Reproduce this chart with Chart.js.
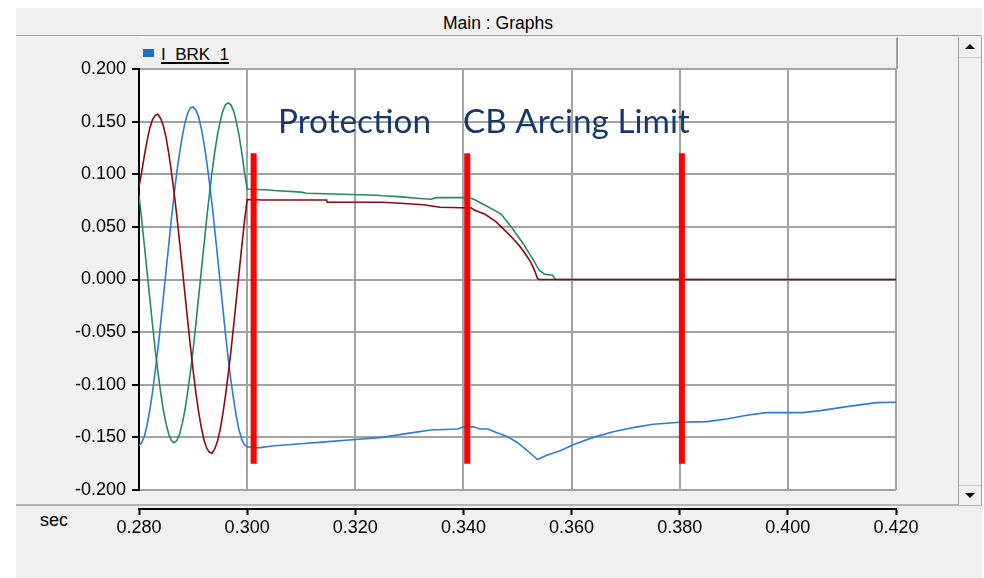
<!DOCTYPE html>
<html>
<head>
<meta charset="utf-8">
<script src="https://cdn.jsdelivr.net/npm/chart.js@4"></script>
<style>
html,body{margin:0;padding:0;background:#fff;}
#wrap{position:relative;width:984px;height:578px;overflow:hidden;font-family:"Liberation Sans",Arial,sans-serif;color:#000;}
.abs{position:absolute;box-sizing:border-box;}
#titlebar{left:16px;top:8px;width:966px;height:28px;background:#f0f0f0;border-bottom:1px solid #a0a0a0;}
#titletext{left:16px;top:14px;width:964px;text-align:center;font-size:17.5px;line-height:18px;white-space:nowrap;}
#panel{left:16px;top:36px;width:966px;height:470px;background:#f0f0f0;border-bottom:2px solid #b4b4b4;}
#legendbar{left:138px;top:37px;width:760px;height:32px;background:#f0f0f0;border-top:1px solid #fff;border-right:2px solid #a0a0a0;}
#legsq{left:143px;top:49px;width:11px;height:8px;background:#1f6fd0;}
#legtext{left:161px;top:46px;font-size:17px;line-height:17px;white-space:nowrap;text-decoration:underline;text-decoration-thickness:2px;text-underline-offset:2px;}
#plotbg{left:139px;top:69px;width:758px;height:422px;background:#fff;}
#scroll{left:958px;top:37px;width:24px;height:468px;border-left:1px solid #a0a0a0;border-right:1px solid #a0a0a0;background:#f0f0f0;}
#scrollup{left:959px;top:37px;width:22px;height:21px;border-bottom:1px solid #c8c8c8;}
#scrolldn{left:959px;top:485px;width:22px;height:20px;border-top:1px solid #c8c8c8;}
.triup{width:0;height:0;border-left:5px solid transparent;border-right:5px solid transparent;border-bottom:5px solid #000;}
.tridn{width:0;height:0;border-left:5px solid transparent;border-right:5px solid transparent;border-top:5px solid #000;}
#bottom{left:16px;top:506px;width:966px;height:72px;background:#f0f0f0;}
#sec{left:40px;top:511px;font-size:18px;line-height:18px;}
canvas{position:absolute;left:0;top:0;}
</style>
</head>
<body>
<div id="wrap">
  <div class="abs" id="titlebar"></div>
  <div class="abs" id="titletext">Main : Graphs</div>
  <div class="abs" id="panel"></div>
  <div class="abs" id="legendbar"></div>
  <div class="abs" id="legsq"></div>
  <div class="abs" id="legtext">I_BRK_1</div>
  <div class="abs" id="plotbg"></div>
  <div class="abs" id="scroll"></div>
  <div class="abs" id="scrollup"></div>
  <div class="abs triup" style="left:965px;top:44px;"></div>
  <div class="abs" id="scrolldn"></div>
  <div class="abs tridn" style="left:965px;top:493px;"></div>
  <div class="abs" id="bottom"></div>
  <div class="abs" id="sec">sec</div>
  <canvas id="c" width="984" height="578"></canvas>
</div>
<script>
// ---- axis ticks ----
const xTickValues = [0.28, 0.30, 0.32, 0.34, 0.36, 0.38, 0.40, 0.42];
const xTickLabels = ['0.280', '0.300', '0.320', '0.340', '0.360', '0.380', '0.400', '0.420'];
const yTickValues = [-0.20, -0.15, -0.10, -0.05, 0.00, 0.05, 0.10, 0.15, 0.20];
const yTickLabels = ['-0.200', '-0.150', '-0.100', '-0.050', '0.000', '0.050', '0.100', '0.150', '0.200'];

// ---- time samples (sec) for the pre-fault sine part ----
const sineT = [0.2800, 0.2805, 0.2810, 0.2815, 0.2820, 0.2825, 0.2830, 0.2835, 0.2840, 0.2845,
               0.2850, 0.2855, 0.2860, 0.2865, 0.2870, 0.2875, 0.2880, 0.2885, 0.2890, 0.2895,
               0.2900, 0.2905, 0.2910, 0.2915, 0.2920, 0.2925, 0.2930, 0.2935, 0.2940, 0.2945,
               0.2950, 0.2955, 0.2960, 0.2965, 0.2970, 0.2975, 0.2980, 0.2985, 0.2990, 0.2995,
               0.3000];

// ---- red trace ----
const redSine = [0.088, 0.102, 0.118, 0.132, 0.144, 0.152, 0.156, 0.157, 0.153, 0.146,
                 0.135, 0.120, 0.102, 0.082, 0.060, 0.036, 0.011, -0.014, -0.039, -0.063,
                 -0.086, -0.107, -0.125, -0.140, -0.152, -0.160, -0.164, -0.165, -0.161, -0.154,
                 -0.143, -0.128, -0.110, -0.090, -0.068, -0.044, -0.019, 0.006, 0.031, 0.055,
                 0.076];
const redTailT = [0.3030, 0.3147, 0.3148, 0.3250, 0.3283, 0.3326, 0.3357, 0.3415, 0.3420, 0.3440,
                  0.3460, 0.3480, 0.3495, 0.3505, 0.3515, 0.3525, 0.3532, 0.3537, 0.3540, 0.4200];
const redTailV = [0.0755, 0.0755, 0.0735, 0.0734, 0.0724, 0.0710, 0.0686, 0.0680, 0.0660, 0.0620,
                  0.0550, 0.0450, 0.0370, 0.0310, 0.0240, 0.0160, 0.0080, 0.0010, 0.0000, 0.0000];

// ---- green trace ----
const greenSine = [0.080, 0.057, 0.032, 0.007, -0.018, -0.043, -0.067, -0.088, -0.107, -0.124,
                   -0.137, -0.147, -0.153, -0.155, -0.153, -0.147, -0.137, -0.124, -0.107, -0.088,
                   -0.067, -0.043, -0.018, 0.007, 0.032, 0.057, 0.080, 0.102, 0.121, 0.137,
                   0.150, 0.160, 0.166, 0.168, 0.166, 0.160, 0.150, 0.137, 0.121, 0.102,
                   0.086];
const greenTailT = [0.3040, 0.3050, 0.3100, 0.3110, 0.3240, 0.3250, 0.3280, 0.3320, 0.3340, 0.3350,
                    0.3410, 0.3420, 0.3440, 0.3460, 0.3470, 0.3490, 0.3510, 0.3530, 0.3540, 0.3550,
                    0.3565, 0.3570, 0.4200];
const greenTailV = [0.0850, 0.0845, 0.0830, 0.0819, 0.0800, 0.0795, 0.0787, 0.0770, 0.0762, 0.0778,
                    0.0778, 0.0760, 0.0705, 0.0650, 0.0620, 0.0490, 0.0345, 0.0180, 0.0090, 0.0050,
                    0.0040, 0.0000, 0.0000];

// ---- blue trace (I_BRK_1) ----
const blueSine = [-0.158, -0.155, -0.149, -0.138, -0.124, -0.107, -0.087, -0.066, -0.042, -0.017,
                  0.008, 0.033, 0.058, 0.081, 0.102, 0.120, 0.136, 0.149, 0.158, 0.163,
                  0.164, 0.161, 0.155, 0.144, 0.130, 0.113, 0.093, 0.072, 0.048, 0.023,
                  -0.002, -0.027, -0.052, -0.075, -0.096, -0.114, -0.130, -0.143, -0.152, -0.157,
                  -0.159];
const blueTailT = [0.3020, 0.3050, 0.3100, 0.3150, 0.3200, 0.3250, 0.3300, 0.3340, 0.3390, 0.3400,
                   0.3418, 0.3430, 0.3445, 0.3462, 0.3480, 0.3499, 0.3517, 0.3537, 0.3554, 0.3579,
                   0.3603, 0.3640, 0.3677, 0.3714, 0.3751, 0.3800, 0.3850, 0.3887, 0.3924, 0.3960,
                   0.4028, 0.4060, 0.4109, 0.4164, 0.4200];
const blueTailV = [-0.160, -0.158, -0.156, -0.154, -0.152, -0.150, -0.146, -0.143, -0.142, -0.140,
                   -0.140, -0.142, -0.142, -0.1455, -0.149, -0.1546, -0.162, -0.171, -0.167, -0.1627,
                   -0.157, -0.150, -0.1446, -0.1407, -0.1375, -0.1356, -0.135, -0.1325, -0.129, -0.1265,
                   -0.1265, -0.1246, -0.1208, -0.117, -0.1166];

// ---- red marker bars ----
const markerT = [0.3012, 0.3407, 0.3804];
const markerTop = 0.120;
const markerBottom = -0.175;

// ---- annotations ----
const noteTexts = ['Protection', 'CB Arcing Limit'];
const noteT = [0.3057, 0.3399];
const noteV = 0.139;

function pts(ts, vs) { return ts.map((t, i) => ({x: t, y: vs[i]})); }

const traceStyle = {pointRadius: 0, borderWidth: 1.6, tension: 0, fill: false};
const datasets = [];
markerT.forEach((t, i) => {
  datasets.push({label: 'marker ' + (i + 1), data: [{x: t, y: markerTop}, {x: t, y: markerBottom}],
    borderColor: '#ff0000', borderWidth: 6, pointRadius: 0, borderCapStyle: 'butt', order: 0, xAxisID: 'x'});
});
datasets.push(Object.assign({label: 'red trace', data: pts(sineT.concat(redTailT), redSine.concat(redTailV)),
  borderColor: '#8e0a0a', order: 1}, traceStyle));
datasets.push(Object.assign({label: 'green trace', data: pts(sineT.concat(greenTailT), greenSine.concat(greenTailV)),
  borderColor: '#23896b', order: 1}, traceStyle));
datasets.push(Object.assign({label: 'I_BRK_1', data: pts(sineT.concat(blueTailT), blueSine.concat(blueTailV)),
  borderColor: '#2b7bd8', order: 1}, traceStyle));

const notePlugin = {
  id: 'notes',
  afterDatasetsDraw(chart) {
    const c = chart.ctx, xs = chart.scales.x, ys = chart.scales.y;
    c.save();
    c.font = '33.3px Lato, "Open Sans", sans-serif';
    c.fillStyle = '#17386b';
    c.textBaseline = 'alphabetic';
    c.textAlign = 'left';
    noteTexts.forEach((s, i) => c.fillText(s, xs.getPixelForValue(noteT[i]), ys.getPixelForValue(noteV)));
    c.restore();
  }
};

const tickFont = {family: '"Liberation Sans", Arial, sans-serif', size: 18};
const gridGray = '#a3a3a3';

new Chart(document.getElementById('c'), {
  type: 'line',
  data: {datasets},
  options: {
    responsive: false,
    animation: false,
    events: [],
    layout: {padding: {left: 0, top: 69, right: 88, bottom: 29}},
    plugins: {legend: {display: false}, tooltip: {enabled: false}},
    scales: {
      x: {
        type: 'linear', position: 'bottom', min: 0.28, max: 0.42,
        afterBuildTicks: s => { s.ticks = xTickValues.map(v => ({value: v})); },
        ticks: {display: false},
        grid: {color: gridGray, lineWidth: 2, drawTicks: false},
        border: {display: false},
        afterFit: s => { s.height = 19; }
      },
      x2: {
        type: 'linear', position: 'bottom', min: 0.28, max: 0.42,
        afterBuildTicks: s => { s.ticks = xTickValues.map(v => ({value: v})); },
        ticks: {font: tickFont, color: '#000', padding: 2, maxRotation: 0, autoSkip: false,
                callback: (v, i) => xTickLabels[i]},
        grid: {drawOnChartArea: false, tickLength: 6, tickColor: '#000', tickWidth: 2},
        border: {color: '#000', width: 2},
        afterFit: s => { s.height = 40; }
      },
      y: {
        type: 'linear', position: 'left', min: -0.2, max: 0.2,
        afterBuildTicks: s => { s.ticks = yTickValues.map(v => ({value: v})); },
        ticks: {font: tickFont, color: '#000', padding: 6, autoSkip: false,
                callback: (v, i) => yTickLabels[i]},
        grid: {color: gridGray, lineWidth: 2, tickLength: 7, tickColor: '#000', tickWidth: 2},
        border: {color: '#000', width: 2},
        afterFit: s => { s.width = 139; }
      }
    }
  },
  plugins: [notePlugin]
});
</script>
</body>
</html>
